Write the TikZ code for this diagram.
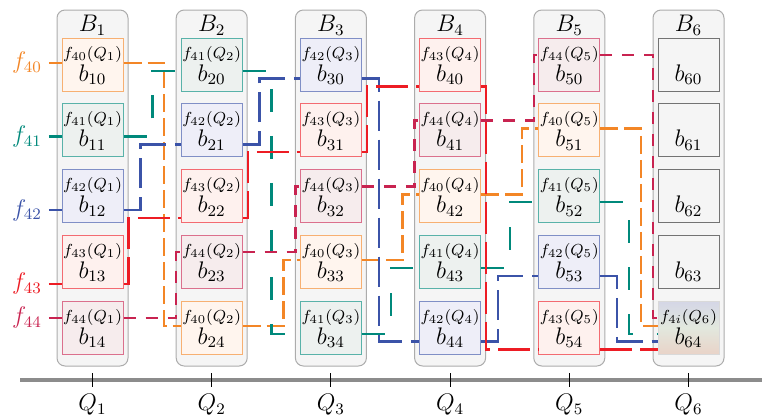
\documentclass[tikz,border=0pt]{standalone}
\usetikzlibrary{calc}
\definecolor{cf0}{RGB}{243,134,38}
\definecolor{cf1}{RGB}{0,137,123}
\definecolor{cf2}{RGB}{59,83,168}
\definecolor{cf3}{RGB}{237,28,36}
\definecolor{cf4}{RGB}{200,35,80}
\definecolor{bf0}{RGB}{255,245,238}
\definecolor{bf1}{RGB}{237,241,239}
\definecolor{bf2}{RGB}{238,238,248}
\definecolor{bf3}{RGB}{254,241,238}
\definecolor{bf4}{RGB}{246,236,237}
\definecolor{mixtop}{RGB}{212,214,230}
\definecolor{mixmid}{RGB}{226,232,222}
\definecolor{mixbot}{RGB}{233,211,200}
\begin{document}
\begin{tikzpicture}[x=0.5pt, y=-0.5pt, every node/.style={font=\large},
  bin/.style={draw=gray!65,fill=gray!8,rounded corners=4pt,line width=0.5pt,minimum width=35.5pt,minimum height=178pt},
  blk/.style={draw=cf#1!65,fill=bf#1,line width=0.5pt,minimum width=30.5pt,minimum height=26.5pt},
  tag/.style={font=\footnotesize,inner sep=0pt},
  flow/.style={line width=1.2pt},
  fl0/.style={flow,cf0,dash pattern=on 9pt off 3pt},
  fl1/.style={flow,cf1,dash pattern=on 11.5pt off 12pt},
  fl2/.style={flow,cf2,dash pattern=on 15pt off 4.5pt},
  fl3/.style={flow,cf3,dash pattern=on 16pt off 4pt},
  fl4/.style={flow,cf4,dash pattern=on 6pt off 5pt}]
  \useasboundingbox (0,0) rectangle (762,419);

  % time axis
  \coordinate (axl) at (20,380);
  \coordinate (axr) at (762,380);
  \draw[line width=2pt,black!45] (axl) -- (axr);

  % bins B1..B6 with their blocks
  \foreach \col in {1,...,6}{
    \pgfmathsetmacro\cx{92.5+119.2*(\col-1)}
    \node[bin] (B\col) at (\cx,188) {};
    \node (tB\col) at (\cx,25) {$B_{\col}$};
    \foreach \row in {0,...,4}{
      \pgfmathsetmacro\cy{64.5+65.75*\row}
      \pgfmathtruncatemacro\fj{mod(\row+\col-1,5)}
      \ifnum\col<6
        \node[blk=\fj] (b\col\row) at (\cx,\cy) {};
        \node[tag] (q\col\row) at (\cx,\cy-10.5) {$f_{4\fj}(Q_{\col})$};
      \else
        \ifnum\row<4
          \node[blk=0,fill=gray!8,draw=black!55] (b\col\row) at (\cx,\cy) {};
        \else
          \node[draw=gray!30,line width=0.5pt,minimum width=30.5pt,minimum height=26.5pt,
                top color=mixtop,bottom color=mixbot,middle color=mixmid] (b\col\row) at (\cx,\cy) {};
          \node[tag] (q\col\row) at (\cx,\cy-10.5) {$f_{4i}(Q_{6})$};
        \fi
      \fi
      \node (n\col\row) at (\cx,\cy+10) {$b_{\col\row}$};
    }
    \node (Q\col) at (\cx,405) {$Q_{\col}$};
    \draw[line width=0.5pt] (\cx,373) -- (\cx,387);
  }

  % flows f40..f44
  \foreach \fl in {0,...,4}{
    \pgfmathtruncatemacro\tr{mod(\fl+1,5)}
    \pgfmathsetmacro\dy{-9.6+7.9*\tr}
    \pgfmathsetmacro\dx{5+11.9*(4-\tr)}
    \pgfmathsetmacro\ly{64.5+65.75*\fl+\dy}
    \node[text=cf\fl] (lf\fl) at (27,\ly) {$f_{4\fl}$};
    \draw[flow,cf\fl] (lf\fl.east) -- ($(b1\fl.west)+(0,\dy)$);
    \foreach \col in {1,...,5}{
      \pgfmathtruncatemacro\nx{\col+1}
      \pgfmathtruncatemacro\ra{mod(\fl-\col+6,5)}
      \pgfmathtruncatemacro\rb{\col<5 ? mod(\fl-\col+5,5) : 4}
      \draw[fl\fl] ($(b\col\ra.east)+(0,\dy)$) -- ++(\dx,0) |- ($(b\nx\rb.west)+(0,\dy)$);
    }
  }
\end{tikzpicture}
\end{document}
